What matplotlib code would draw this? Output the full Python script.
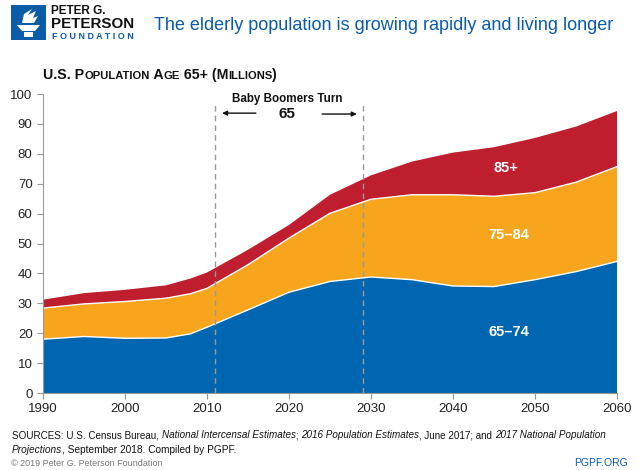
import matplotlib
matplotlib.use("Agg")
import matplotlib.pyplot as plt
from matplotlib.patches import Rectangle, Polygon
import numpy as np

FONT = "Liberation Sans"

years = [1990, 1995, 2000, 2005, 2008, 2010, 2015, 2020, 2025, 2030, 2035, 2040, 2045, 2050, 2055, 2060]
age_65_74 = [18.0, 18.9, 18.3, 18.4, 19.8, 22.0, 27.8, 33.7, 37.3, 38.8, 37.9, 35.8, 35.6, 37.9, 40.6, 44.0]
age_75_84 = [10.4, 10.9, 12.3, 13.3, 13.4, 13.0, 15.1, 18.1, 22.8, 26.0, 28.4, 30.5, 30.2, 29.1, 29.9, 31.7]
age_85_up = [2.8, 3.6, 3.9, 4.3, 5.1, 5.3, 5.0, 4.4, 6.2, 8.0, 11.1, 14.1, 16.4, 18.3, 18.6, 18.6]
group_labels = ["65–74", "75–84", "85+"]
colors = ["#0066B2", "#F7A51C", "#BE1E2D"]
boomer_start, boomer_end = 2011, 2029

fig = plt.figure(figsize=(6.4, 4.7), dpi=100)
R = fig.canvas.get_renderer()
W, H = 640.0, 470.0
AX_L, AX_R, AX_T, AX_B = 43, 617, 94, 393


def fx(x):
    return x / W


def fy(y):
    return 1 - y / H


def yr_px(yr):
    return AX_L + (yr - 1990) * (AX_R - AX_L) / 70.0


ax = fig.add_axes([fx(AX_L), fy(AX_B), (AX_R - AX_L) / W, (AX_B - AX_T) / H])

layers = [np.array(age_65_74), np.array(age_75_84), np.array(age_85_up)]
ax.stackplot(years, *layers, colors=colors, linewidth=0)
cum = np.cumsum(layers, axis=0)
for c in cum[:2]:
    ax.plot(years, c, color="white", lw=1.0)

ax.set_xlim(1990, 2060)
ax.set_ylim(0, 100)
ax.set_xticks(range(1990, 2061, 10))
ax.set_yticks(range(0, 101, 10))
for s in ["top", "right"]:
    ax.spines[s].set_visible(False)
for s in ["left", "bottom"]:
    ax.spines[s].set_color("#999999")
    ax.spines[s].set_linewidth(0.8)
ax.tick_params(colors="#999999", length=4, width=0.8, labelcolor="#222222", labelsize=9.5)
for lab in ax.get_xticklabels() + ax.get_yticklabels():
    lab.set_fontfamily(FONT)

for xv in (boomer_start, boomer_end):
    ax.plot([xv, xv], [0, 97.3], color="#999999", lw=1.0, ls=(0, (4, 3)), clip_on=False)


def fit_text(x0, x1, yy, s, ha="left", **kw):
    """Place text in figure pixels so that its width spans x0..x1."""
    t = fig.text(0, 0, s, fontsize=10, family=FONT, **kw)
    w = t.get_window_extent(renderer=R).width
    t.set_fontsize(10 * (x1 - x0) / w)
    if ha == "left":
        t.set_position((fx(x0), fy(yy)))
    else:
        t.set_position((fx((x0 + x1) / 2), fy(yy)))
        t.set_ha("center")
    return t


def fit_seq(x0, x1, yy, parts, base=10, va="baseline", **kw):
    """parts: (string, relative size, style) placed one after another, fitted to x0..x1."""
    texts = []
    tot = 0
    for s, rel, st in parts:
        t = fig.text(0, 0, s, fontsize=base * rel, family=FONT, style=st, va=va, **kw)
        tot += t.get_window_extent(renderer=R).width
        texts.append((t, rel))
    k = (x1 - x0) / tot
    x = x0
    for t, rel in texts:
        t.set_fontsize(base * rel * k)
        t.set_position((fx(x), fy(yy)))
        x += t.get_window_extent(renderer=R).width
    return texts


# annotation
fit_text(yr_px(2013.1), yr_px(2026.5), 99, "Baby Boomers Turn", ha="center", va="center",
         fontweight="bold", color="#111111")
fig.text(fx(yr_px(2019.8)), fy(114), "65", fontsize=11, family=FONT, fontweight="bold",
         color="#111111", ha="center", va="center")
ax.annotate("", xy=(2011.5, 93.6), xytext=(2016.3, 93.6),
            arrowprops=dict(arrowstyle="-|>", color="#111111", lw=1.0, mutation_scale=7))
ax.annotate("", xy=(2028.6, 93.3), xytext=(2023.7, 93.3),
            arrowprops=dict(arrowstyle="-|>", color="#111111", lw=1.0, mutation_scale=7))

ax.text(2046.5, 75.2, group_labels[2], ha="center", va="center", color="white",
        fontsize=10.5, fontweight="bold", family=FONT)
ax.text(2046.8, 52.9, group_labels[1], ha="center", va="center", color="white",
        fontsize=10.5, fontweight="bold", family=FONT)
ax.text(2046.8, 20.4, group_labels[0], ha="center", va="center", color="white",
        fontsize=10.5, fontweight="bold", family=FONT)

# header logo
BLUE = "#0A5BA8"
fig.patches.append(Rectangle((fx(11), fy(40)), 35 / W, 35 / H, transform=fig.transFigure,
                             facecolor=BLUE, edgecolor="none"))
shapes = [
    [(17, 25), (40, 25), (35, 31), (22, 31)],
    [(24, 32), (33, 32), (33, 37), (24, 37)],
    [(22, 23), (24, 14), (32, 9), (28, 15), (36, 11), (33, 18), (38, 16), (34, 23)],
]
for sh in shapes:
    fig.patches.append(Polygon([(fx(a), fy(b)) for a, b in sh], closed=True,
                               transform=fig.transFigure, facecolor="white", edgecolor="none"))

fig.text(fx(51), fy(10.5), "PETER G.", fontsize=8.5, family=FONT, fontweight="bold",
         color="#111111", va="center", ha="left")
fit_text(51, 134, 24, "PETERSON", va="center", fontweight="bold", color="#111111")
fit_text(52, 134, 36.5, "F O U N D A T I O N", va="center", fontweight="bold", color=BLUE)
fit_text(154, 614, 25, "The elderly population is growing rapidly and living longer",
         va="center", color=BLUE)

# small-caps subtitle
fit_seq(43, 278, 79, [("U.S. P", 1.0, "normal"), ("OPULATION", 0.8, "normal"), (" A", 1.0, "normal"),
                      ("GE", 0.8, "normal"), (" 65+ (M", 1.0, "normal"), ("ILLIONS", 0.8, "normal"),
                      (")", 1.0, "normal")], base=11, fontweight="bold", color="#111111")

# sources
fit_seq(12, 609, 435, [("SOURCES: U.S. Census Bureau, ", 1, "normal"),
                       ("National Intercensal Estimates", 1, "italic"),
                       ("; ", 1, "normal"), ("2016 Population Estimates", 1, "italic"),
                       (", June 2017; and ", 1, "normal"), ("2017 National Population", 1, "italic")],
        base=8, va="center", color="#111111")
fit_seq(12, 238, 450, [("Projections", 1, "italic"), (", September 2018. Compiled by PGPF.", 1, "normal")],
        base=8, va="center", color="#111111")

fit_text(11, 162, 463, "© 2019 Peter G. Peterson Foundation", va="center", color="#777777")
fig.text(fx(628), fy(463), "PGPF.ORG", fontsize=7.5, family=FONT, color=BLUE,
         va="center", ha="right")

fig.savefig("out.png", dpi=100)
